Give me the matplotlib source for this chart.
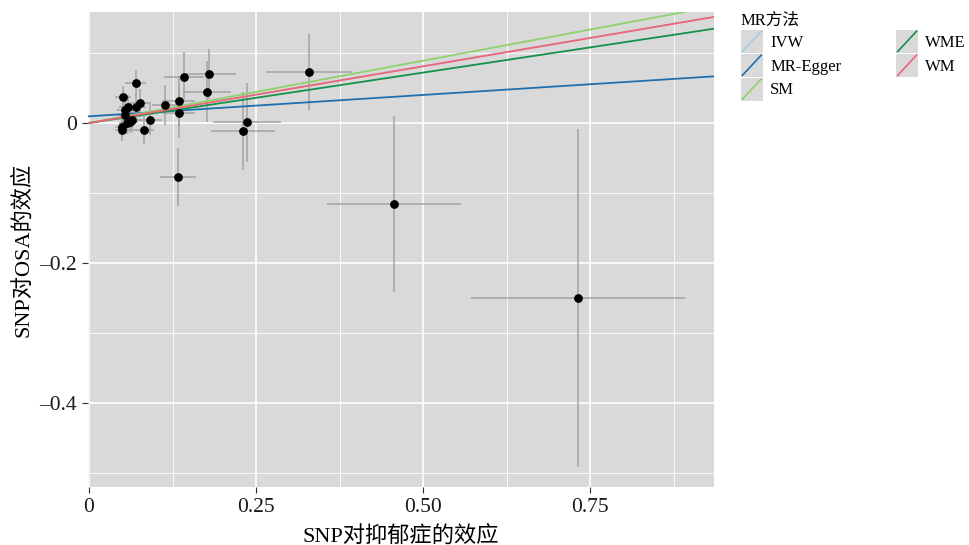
# MR scatter plot: SNP effect on depression vs SNP effect on OSA

import matplotlib
matplotlib.use("Agg")
import matplotlib.pyplot as plt
from matplotlib.legend_handler import HandlerBase
from matplotlib.lines import Line2D
from matplotlib.patches import Rectangle


# ── 1. Data ─────────────────────────────────────────────────
snp_exposure = [0.732, 0.457, 0.329, 0.236, 0.231, 0.133, 0.180, 0.142, 0.176,
                0.114, 0.134, 0.134, 0.070, 0.051, 0.058, 0.054, 0.070, 0.077,
                0.092, 0.082, 0.050, 0.050, 0.061, 0.057, 0.064, 0.054]
snp_outcome = [-0.250, -0.116, 0.073, 0.001, -0.011, -0.077, 0.070, 0.066, 0.045,
               0.026, 0.031, 0.015, 0.057, 0.037, 0.023, 0.019, 0.023, 0.028,
               0.005, -0.010, -0.010, -0.005, 0.002, 0.000, 0.004, 0.011]
se_exposure = [0.160, 0.100, 0.064, 0.051, 0.048, 0.027, 0.040, 0.030, 0.036,
               0.020, 0.024, 0.024, 0.016, 0.012, 0.013, 0.012, 0.015, 0.016,
               0.018, 0.016, 0.011, 0.011, 0.013, 0.012, 0.014, 0.012]
se_outcome = [0.241, 0.126, 0.054, 0.056, 0.056, 0.041, 0.036, 0.036, 0.043,
              0.029, 0.036, 0.036, 0.019, 0.016, 0.017, 0.017, 0.018, 0.020,
              0.022, 0.020, 0.015, 0.015, 0.016, 0.016, 0.017, 0.016]

methods = ["IVW", "MR-Egger", "SM", "WME", "WM"]
intercepts = [0.0, 0.0096, 0.0, 0.0, 0.0]
slopes = [0.162, 0.061, 0.178, 0.144, 0.162]
colors = ["#a6cee3", "#1f6fae", "#8fd16a", "#15924a", "#ee6677"]

x_ticks = [0, 0.25, 0.5, 0.75]
x_tick_labels = ["0", "0.25", "0.50", "0.75"]
y_ticks = [0, -0.2, -0.4]
y_tick_labels = ["0", "\u20130.2", "\u20130.4"]

FONT = ["Liberation Serif", "Noto Sans CJK SC", "DejaVu Sans"]
plt.rcParams["font.family"] = FONT


# ── 2. Legend key: grey box with diagonal line ─────────────
class DiagonalKey(HandlerBase):
    def create_artists(self, legend, orig_handle, xdescent, ydescent,
                       width, height, fontsize, trans):
        bg = Rectangle((-xdescent, -ydescent), width, height,
                       facecolor="#d9d9d9", edgecolor="none", transform=trans)
        ln = Line2D([-xdescent + 1, -xdescent + width - 1],
                    [-ydescent + 1, -ydescent + height - 1],
                    color=orig_handle.get_color(), lw=1.2, transform=trans)
        return [bg, ln]


# ── 3. Plot ─────────────────────────────────────────────────
fig = plt.figure(figsize=(9.7, 5.45), dpi=100)
ax = fig.add_axes([88 / 970, 1 - 487 / 545, 626 / 970, 475 / 545])
ax.set_facecolor("#d9d9d9")

ax.set_xlim(-0.0015, 0.9356)
ax.set_ylim(-0.52, 0.1586)

ax.set_xticks(x_ticks)
ax.set_xticklabels(x_tick_labels)
ax.set_yticks(y_ticks)
ax.set_yticklabels(y_tick_labels)
ax.set_xticks([0.125, 0.375, 0.625, 0.875], minor=True)
ax.set_yticks([0.1, -0.1, -0.3, -0.5], minor=True)

ax.grid(True, which="major", color="white", lw=1.2)
ax.grid(True, which="minor", color="white", lw=0.6)
ax.set_axisbelow(True)
for s in ax.spines.values():
    s.set_visible(False)
ax.tick_params(which="major", length=4, width=0.8, color="#333333",
               labelsize=15.5, labelcolor="#1a1a1a", pad=4)
ax.tick_params(which="minor", length=0)

ax.errorbar(snp_exposure, snp_outcome, xerr=se_exposure, yerr=se_outcome,
            fmt="none", ecolor="#a3a3a3", elinewidth=1.1, capsize=0, zorder=2)

handles = []
for name, b0, b1, c in zip(methods, intercepts, slopes, colors):
    ax.axline((0, b0), slope=b1, color=c, lw=1.3, zorder=3)
    handles.append(Line2D([], [], color=c, label=name))

ax.scatter(snp_exposure, snp_outcome, s=28, color="black", zorder=4)

ax.set_xlabel("SNP对抑郁症的效应", fontsize=16, labelpad=6)
ax.set_ylabel("SNP对OSA的效应", fontsize=16, labelpad=4)

leg = fig.legend(handles=handles, ncol=2, loc="upper left",
                 bbox_to_anchor=(741 / 970, 1 - 13 / 545),
                 frameon=False, fontsize=12, title="MR方法", title_fontsize=12,
                 alignment="left", handler_map={Line2D: DiagonalKey()},
                 handlelength=1.3, handleheight=1.75, labelspacing=0.05,
                 columnspacing=3.3, handletextpad=0.45, borderpad=0,
                 borderaxespad=0)

fig.savefig("out.png", dpi=100)
print("Chart saved as out.png")
